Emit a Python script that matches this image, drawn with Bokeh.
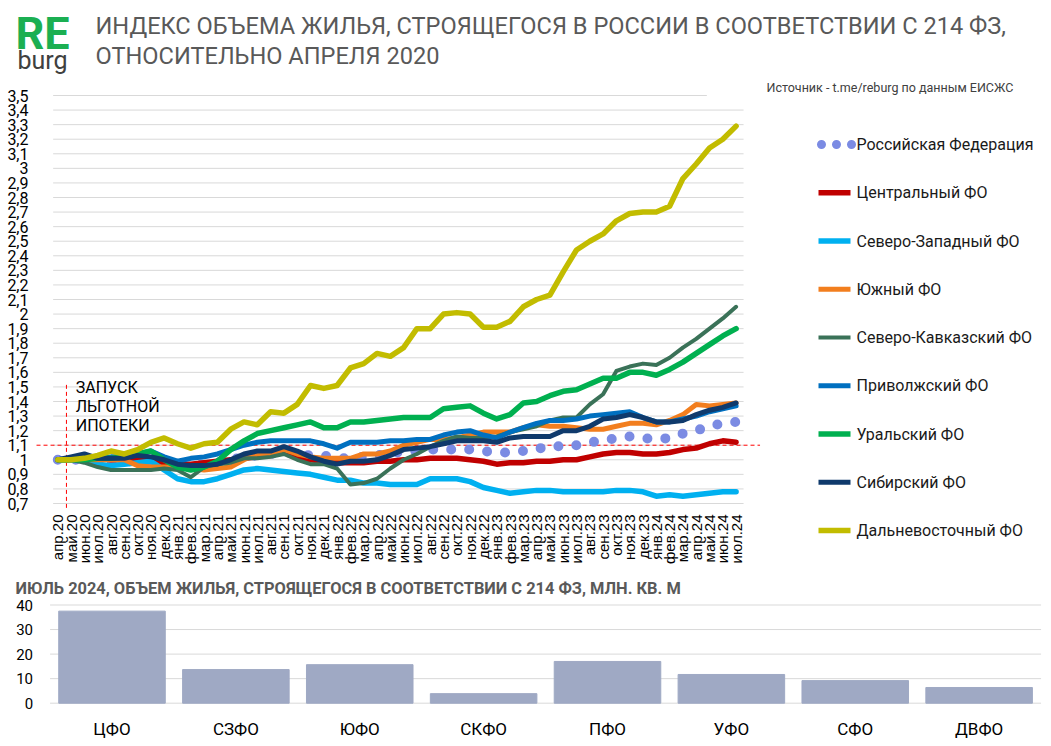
import math
from bokeh.plotting import figure
from bokeh.models import Range1d, FixedTicker, CustomJSTickFormatter, LinearAxis
from bokeh.core.properties import value
from bokeh.embed import file_html
from bokeh.resources import INLINE

# ---------------- data ----------------
months = ["апр.20", "май.20", "июн.20", "июл.20", "авг.20", "сен.20", "окт.20", "ноя.20", "дек.20",
          "янв.21", "фев.21", "мар.21", "апр.21", "май.21", "июн.21", "июл.21", "авг.21", "сен.21",
          "окт.21", "ноя.21", "дек.21",
          "янв.22", "фев.22", "мар.22", "апр.22", "май.22", "июн.22", "июл.22", "авг.22", "сен.22",
          "окт.22", "ноя.22", "дек.22",
          "янв.23", "фев.23", "мар.23", "апр.23", "май.23", "июн.23", "июл.23", "авг.23", "сен.23",
          "окт.23", "ноя.23", "дек.23",
          "янв.24", "фев.24", "мар.24", "апр.24", "май.24", "июн.24", "июл.24"]

rf = [1.00, 1.00, 1.00, 0.99, 0.99, 0.99, 0.99, 0.99, 0.98, 0.96,
      0.96, 0.97, 0.98, 1.00, 1.02, 1.03, 1.04, 1.05, 1.04, 1.03,
      1.03, 1.01, 1.01, 1.02, 1.03, 1.04, 1.06, 1.06, 1.07, 1.07,
      1.07, 1.07, 1.06, 1.05, 1.05, 1.06, 1.08, 1.08, 1.10, 1.10,
      1.12, 1.13, 1.15, 1.16, 1.15, 1.14, 1.15, 1.18, 1.20, 1.23,
      1.25, 1.26]
central = [1.00, 1.00, 1.01, 1.01, 1.00, 1.00, 1.00, 0.99, 0.98, 0.97,
           0.97, 0.98, 0.99, 1.00, 1.01, 1.02, 1.03, 1.05, 1.02, 1.00,
           0.99, 0.98, 0.98, 0.98, 0.99, 0.99, 1.00, 1.00, 1.01, 1.01,
           1.01, 1.00, 0.99, 0.97, 0.98, 0.98, 0.99, 0.99, 1.00, 1.00,
           1.02, 1.04, 1.05, 1.05, 1.04, 1.04, 1.05, 1.07, 1.08, 1.11,
           1.13, 1.12]
northwest = [1.00, 1.00, 1.00, 0.97, 0.96, 0.97, 0.98, 0.99, 0.93, 0.87,
             0.85, 0.85, 0.87, 0.90, 0.93, 0.94, 0.93, 0.92, 0.91, 0.90,
             0.88, 0.86, 0.86, 0.84, 0.84, 0.83, 0.83, 0.83, 0.87, 0.87,
             0.87, 0.85, 0.81, 0.79, 0.77, 0.78, 0.79, 0.79, 0.78, 0.78,
             0.78, 0.78, 0.79, 0.79, 0.78, 0.75, 0.76, 0.75, 0.76, 0.77,
             0.78, 0.78]
south = [1.00, 1.00, 1.00, 1.00, 1.00, 1.00, 0.96, 0.95, 0.95, 0.95,
         0.94, 0.93, 0.94, 0.95, 1.00, 1.04, 1.04, 1.07, 1.04, 1.02,
         1.01, 1.01, 1.01, 1.04, 1.04, 1.06, 1.10, 1.12, 1.14, 1.14,
         1.15, 1.17, 1.19, 1.19, 1.19, 1.22, 1.24, 1.23, 1.23, 1.22,
         1.21, 1.21, 1.23, 1.25, 1.25, 1.24, 1.27, 1.31, 1.38, 1.37,
         1.38, 1.39]
ncaucasus = [1.00, 1.00, 0.98, 0.95, 0.93, 0.93, 0.93, 0.93, 0.94, 0.93,
             0.88, 0.95, 0.97, 0.98, 1.01, 1.01, 1.02, 1.04, 1.00, 0.97,
             0.97, 0.94, 0.83, 0.84, 0.87, 0.94, 1.00, 1.04, 1.09, 1.13,
             1.16, 1.15, 1.15, 1.16, 1.19, 1.21, 1.23, 1.27, 1.29, 1.29,
             1.38, 1.45, 1.61, 1.64, 1.66, 1.65, 1.70, 1.77, 1.83, 1.90,
             1.97, 2.05]
volga = [1.00, 1.01, 1.02, 1.01, 1.02, 1.02, 1.04, 1.06, 1.02, 0.99,
         1.01, 1.02, 1.04, 1.07, 1.10, 1.12, 1.13, 1.13, 1.13, 1.13,
         1.11, 1.08, 1.12, 1.12, 1.12, 1.13, 1.13, 1.14, 1.14, 1.17,
         1.19, 1.20, 1.17, 1.15, 1.19, 1.22, 1.25, 1.27, 1.27, 1.28,
         1.30, 1.31, 1.32, 1.33, 1.29, 1.26, 1.26, 1.28, 1.30, 1.33,
         1.35, 1.37]
ural = [1.00, 1.00, 1.00, 1.01, 1.01, 1.02, 1.04, 1.06, 1.00, 0.95,
        0.93, 0.95, 0.99, 1.07, 1.13, 1.18, 1.20, 1.22, 1.24, 1.26,
        1.22, 1.22, 1.26, 1.26, 1.27, 1.28, 1.29, 1.29, 1.29, 1.35,
        1.36, 1.37, 1.32, 1.28, 1.31, 1.39, 1.40, 1.44, 1.47, 1.48,
        1.52, 1.56, 1.56, 1.60, 1.60, 1.58, 1.62, 1.67, 1.73, 1.79,
        1.85, 1.90]
siberia = [1.00, 1.02, 1.04, 1.01, 1.01, 1.01, 1.03, 1.02, 1.00, 0.97,
           0.96, 0.96, 0.97, 1.00, 1.04, 1.06, 1.06, 1.09, 1.06, 1.02,
           0.99, 0.97, 0.99, 0.99, 1.00, 1.03, 1.07, 1.08, 1.09, 1.11,
           1.13, 1.13, 1.13, 1.12, 1.15, 1.16, 1.16, 1.16, 1.20, 1.20,
           1.23, 1.28, 1.29, 1.31, 1.29, 1.26, 1.26, 1.27, 1.31, 1.34,
           1.36, 1.39]
fareast = [1.00, 1.00, 1.01, 1.03, 1.06, 1.04, 1.07, 1.12, 1.15, 1.11,
           1.08, 1.11, 1.12, 1.21, 1.26, 1.24, 1.33, 1.32, 1.38, 1.51,
           1.49, 1.51, 1.63, 1.66, 1.73, 1.71, 1.77, 1.90, 1.90, 2.00,
           2.01, 2.00, 1.91, 1.91, 1.95, 2.05, 2.10, 2.13, 2.29, 2.44,
           2.50, 2.55, 2.64, 2.69, 2.70, 2.70, 2.74, 2.93, 3.03, 3.14,
           3.20, 3.29]

series_names = ["Российская Федерация", "Центральный ФО", "Северо-Западный ФО", "Южный ФО",
                "Северо-Кавказский ФО", "Приволжский ФО", "Уральский ФО", "Сибирский ФО",
                "Дальневосточный ФО"]
series_values = [rf, central, northwest, south, ncaucasus, volga, ural, siberia, fareast]

y_ticks = [0.7, 0.8, 0.9, 1.0, 1.1, 1.2, 1.3, 1.4, 1.5, 1.6, 1.7, 1.8, 1.9, 2.0, 2.1, 2.2,
           2.3, 2.4, 2.5, 2.6, 2.7, 2.8, 2.9, 3.0, 3.1, 3.2, 3.3, 3.4, 3.5]
threshold = 1.1

districts = ["ЦФО", "СЗФО", "ЮФО", "СКФО", "ПФО", "УФО", "СФО", "ДВФО"]
volumes = [37.5, 13.7, 15.7, 3.9, 17.0, 11.7, 9.2, 6.4]
bar_ticks = [0, 10, 20, 30, 40]

# ---------------- styles / geometry ----------------
colors = ["#7B8BE3", "#C00000", "#00B0F0", "#F27E1E", "#3A7258", "#0070C0", "#00B050",
          "#0F3A6C", "#C2BC00"]
widths = [10, 5.5, 5.5, 5, 4, 5, 5.5, 5, 5.5]
FONT = "Roboto"
GRID = "#D9D9D9"

W, H = 1045, 740
PX0, PX1, PY0, PY1 = 0, W, 0, H          # page pixel extent of the canvas

# main chart: index 0 at px 57.3, 13.3 px per month; 0.7 at px 503, 3.5 at px 95
MX0, MDX = 57.3, 13.3
MY_TOP, MY_BOT = 95.0, 503.0
MPY = (MY_BOT - MY_TOP) / (3.5 - 0.7)
# bar chart: first bar centre at px 111.5, 123.875 px per bar; 0 at px 702.7, 2.455 px/unit
BX0, BDX = 111.5, 123.875
BY0, BPY = 702.7, 2.455

main_x = Range1d((PX0 - MX0) / MDX, (PX1 - MX0) / MDX)
main_y = Range1d(3.5 - (PY1 - MY_TOP) / MPY, 3.5 + (MY_TOP - PY0) / MPY)

p = figure(width=W, height=H, x_range=main_x, y_range=main_y,
           output_backend="svg", toolbar_location=None,
           x_axis_location=None, y_axis_location=None,
           min_border=0, min_border_left=0, min_border_right=0,
           min_border_top=0, min_border_bottom=0)
p.extra_x_ranges = {"bar_x": Range1d((PX0 - BX0) / BDX, (PX1 - BX0) / BDX),
                    "px_x": Range1d(PX0, PX1)}
p.extra_y_ranges = {"bar_y": Range1d((BY0 - PY1) / BPY, (BY0 - PY0) / BPY),
                    "px_y": Range1d(PY1, PY0)}
p.outline_line_color = None
for g in p.grid:
    g.visible = False
p.background_fill_color = "white"
p.border_fill_color = "white"

PXR = dict(x_range_name="px_x", y_range_name="px_y")
BR = dict(x_range_name="bar_x", y_range_name="bar_y")

# ---------------- header ----------------
p.text(x=[15], y=[33], text=["RE"], text_font=value(FONT), text_font_size="45px",
       text_font_style="bold", text_color="#1BAF52", text_baseline="middle", **PXR)
p.text(x=[17], y=[60], text=["burg"], text_font=value(FONT), text_font_size="25px",
       text_color="#404040", text_baseline="middle", **PXR)
p.text(x=[95, 95], y=[25, 55.5],
       text=["ИНДЕКС ОБЪЕМА ЖИЛЬЯ, СТРОЯЩЕГОСЯ В РОССИИ В СООТВЕТСТВИИ С 214 ФЗ,",
             "ОТНОСИТЕЛЬНО АПРЕЛЯ 2020"],
       text_font=value(FONT), text_font_size="23.6px", text_color="#595959",
       text_baseline="middle", **PXR)
p.text(x=[766], y=[87], text=["Источник - t.me/reburg по данным ЕИСЖС"],
       text_font=value(FONT), text_font_size="12.5px", text_color="#404040",
       text_baseline="middle", **PXR)

# ---------------- main line chart ----------------
n = len(months)
xs = list(range(n))
gx1 = [51.56 if v < 3.45 else 48.8 for v in y_ticks]
p.segment(x0=[-0.35] * len(y_ticks), y0=y_ticks, x1=gx1, y1=y_ticks,
          line_color=GRID, line_width=1)

yax = LinearAxis(fixed_location=-1.6, ticker=FixedTicker(ticks=y_ticks))
yax.formatter = CustomJSTickFormatter(
    code="return (Math.round(tick*10)/10).toString().replace('.', ',');")
yax.axis_line_color = None
yax.major_tick_line_color = None
yax.minor_tick_line_color = None
yax.major_label_standoff = 2
yax.major_label_text_font = FONT
yax.major_label_text_font_size = "16px"
yax.major_label_text_color = "#000000"
p.add_layout(yax, "left")

xax = LinearAxis(fixed_location=0.7, ticker=FixedTicker(ticks=xs))
xax.major_label_overrides = {i: m for i, m in zip(xs, months)}
xax.major_label_orientation = math.pi / 2
xax.axis_line_color = None
xax.major_tick_line_color = None
xax.minor_tick_line_color = None
xax.major_label_standoff = 5
xax.major_label_text_font = "Liberation Sans"
xax.major_label_text_font_size = "15px"
xax.major_label_text_color = "#000000"
p.add_layout(xax, "below")

# reference lines and note
p.segment(x0=[-1.6], y0=[threshold], x1=[52.8], y1=[threshold],
          line_color="#FF0000", line_width=1, line_dash="4 3")
p.segment(x0=[0.65], y0=[0.67], x1=[0.65], y1=[1.52],
          line_color="#FF0000", line_width=1, line_dash="4 3")
p.text(x=[1.35, 1.35, 1.35], y=[1.496, 1.366, 1.236], text=["ЗАПУСК", "ЛЬГОТНОЙ", "ИПОТЕКИ"],
       text_font=value(FONT), text_font_size="16px", text_color="#000000",
       text_baseline="middle")

for k, (vals, col, lw) in enumerate(zip(series_values, colors, widths)):
    if k == 0:
        p.line(xs, vals, line_color=col, line_width=lw, line_dash="0 18", line_cap="round")
    else:
        p.line(xs, vals, line_color=col, line_width=lw, line_join="round", line_cap="round")

# ---------------- legend ----------------
ly = [144 + 48.25 * k for k in range(len(series_names))]
for k, (name, col, lw) in enumerate(zip(series_names, colors, widths)):
    if k == 0:
        p.line([821, 852], [ly[k], ly[k]], line_color=col, line_width=9,
               line_dash="0 15", line_cap="round", **PXR)
    else:
        p.line([818, 850], [ly[k], ly[k]], line_color=col, line_width=lw, **PXR)
p.text(x=[856] * len(series_names), y=ly, text=series_names, text_font=value(FONT),
       text_font_size="16px", text_color="#1A1A1A", text_baseline="middle", **PXR)

# ---------------- bar chart ----------------
p.text(x=[15], y=[588],
       text=["ИЮЛЬ 2024, ОБЪЕМ ЖИЛЬЯ, СТРОЯЩЕГОСЯ В СООТВЕТСТВИИ С 214 ФЗ, МЛН. КВ. М"],
       text_font=value(FONT), text_font_size="16.4px", text_font_style="bold",
       text_color="#595959", text_baseline="middle", **PXR)

nb = len(districts)
bar_idx = list(range(nb))
p.segment(x0=[-0.5] * len(bar_ticks), y0=bar_ticks, x1=[nb - 0.5] * len(bar_ticks),
          y1=bar_ticks, line_color=GRID, line_width=1, **BR)
p.vbar(x=bar_idx, top=volumes, width=0.86, color="#9FA9C4", **BR)

byax = LinearAxis(fixed_location=-0.5, ticker=FixedTicker(ticks=bar_ticks), **BR)
byax.axis_line_color = None
byax.major_tick_line_color = None
byax.minor_tick_line_color = None
byax.major_label_standoff = 11
byax.major_label_text_font = FONT
byax.major_label_text_font_size = "15px"
byax.major_label_text_color = "#000000"
p.add_layout(byax, "left")

bxax = LinearAxis(fixed_location=0, ticker=FixedTicker(ticks=bar_idx), **BR)
bxax.major_label_overrides = {i: d for i, d in zip(bar_idx, districts)}
bxax.axis_line_color = None
bxax.major_tick_line_color = None
bxax.minor_tick_line_color = None
bxax.major_label_standoff = 10
bxax.major_label_text_font = FONT
bxax.major_label_text_font_size = "17px"
bxax.major_label_text_color = "#000000"
p.add_layout(bxax, "below")

open("out.html", "w").write(file_html(p, INLINE))
